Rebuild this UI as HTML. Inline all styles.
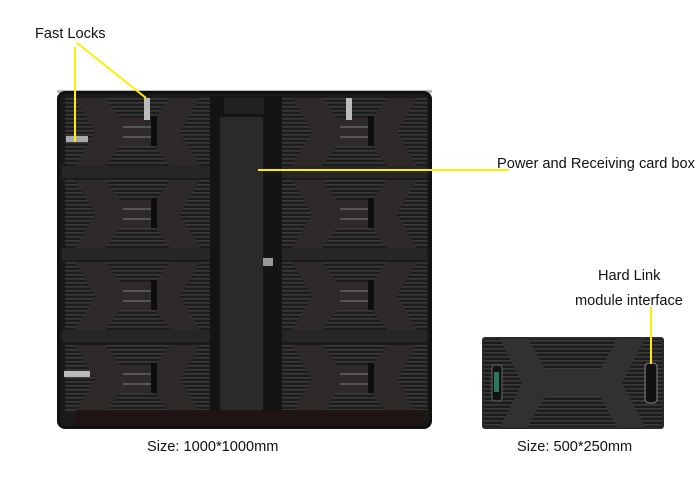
<!DOCTYPE html>
<html><head><style>
html,body{margin:0;padding:0;background:#fff;}
svg{display:block;}
text{font-family:"Liberation Sans",Arial,sans-serif;font-size:14.6px;fill:#111;}
</style></head><body>
<svg width="700" height="500" viewBox="0 0 700 500" xmlns="http://www.w3.org/2000/svg">
<defs>
  <pattern id="st" width="6" height="4" patternUnits="userSpaceOnUse">
    <rect width="6" height="4" fill="#1c1c1c"/><rect y="0" width="6" height="1.6" fill="#3a3a3a"/>
  </pattern>
  <g id="mod">
    <rect x="0" y="0" width="145" height="68" fill="url(#st)"/>
    <polygon points="10,0 40,0 55,20 90,20 105,0 135,0 115,34 135,68 105,68 90,48 55,48 40,68 10,68 30,34" fill="#2d2a29"/>
    <rect x="58" y="28" width="30" height="2" fill="#555"/>
    <rect x="58" y="38" width="30" height="2" fill="#555"/>
    <rect x="86" y="18" width="6" height="30" fill="#0d0d0d"/>
  </g>
</defs>
<text x="35" y="38">Fast Locks</text>
<rect x="57" y="90" width="375" height="3" fill="#bbb"/>
<rect x="57" y="91" width="375" height="338" rx="8" fill="#111"/>
<rect x="60" y="94" width="369" height="332" rx="6" fill="#1a1a1a"/>
<use href="#mod" x="65" y="98"/>
<use href="#mod" x="65" y="180"/>
<use href="#mod" x="65" y="262"/>
<use href="#mod" x="65" y="345"/>
<use href="#mod" x="282" y="98"/>
<use href="#mod" x="282" y="180"/>
<use href="#mod" x="282" y="262"/>
<use href="#mod" x="282" y="345"/>
<rect x="62" y="166" width="148" height="12" fill="#262626"/>
<rect x="62" y="248" width="148" height="12" fill="#262626"/>
<rect x="62" y="330" width="148" height="12" fill="#262626"/>
<rect x="282" y="166" width="145" height="12" fill="#262626"/>
<rect x="282" y="248" width="145" height="12" fill="#262626"/>
<rect x="282" y="330" width="145" height="12" fill="#262626"/>
<rect x="210" y="96" width="72" height="315" fill="#141414"/>
<rect x="220" y="117" width="43" height="296" fill="#2a2a2a"/>
<rect x="224" y="98" width="40" height="16" fill="#222"/>
<rect x="76" y="410" width="350" height="16" fill="#1e1414"/>
<rect x="66" y="136" width="22" height="6" fill="#aaa"/>
<rect x="64" y="371" width="26" height="6" fill="#bbb"/>
<rect x="144" y="98" width="6" height="22" fill="#bbb"/>
<rect x="346" y="98" width="6" height="22" fill="#bbb"/>
<rect x="263" y="258" width="10" height="8" fill="#999"/>
<line x1="75" y1="47" x2="75" y2="142" stroke="#ffee00" stroke-width="2"/>
<line x1="77" y1="43" x2="146" y2="98" stroke="#ffee00" stroke-width="2"/>
<line x1="258" y1="170" x2="509" y2="170" stroke="#ffee00" stroke-width="2"/>
<text x="497" y="168">Power and Receiving card box</text>
<text x="147" y="451">Size: 1000*1000mm</text>
<text x="598" y="280">Hard Link</text>
<text x="575" y="305">module interface</text>
<rect x="482" y="337" width="182" height="92" rx="3" fill="#2a2a2a"/>
<rect x="484" y="339" width="178" height="88" fill="url(#st)"/>
<polygon points="500,339 528,339 545,370 600,370 617,339 645,339 622,383 645,427 617,427 600,396 545,396 528,427 500,427 522,383" fill="#333030"/>
<rect x="492" y="365" width="10" height="36" rx="3" fill="#111" stroke="#666"/>
<rect x="494" y="372" width="5" height="20" fill="#2a7a5a"/>
<rect x="645" y="363" width="12" height="40" rx="4" fill="#111" stroke="#888"/>
<line x1="651" y1="307" x2="651" y2="364" stroke="#ffee00" stroke-width="2"/>
<text x="517" y="451">Size: 500*250mm</text>
</svg>
</body></html>
